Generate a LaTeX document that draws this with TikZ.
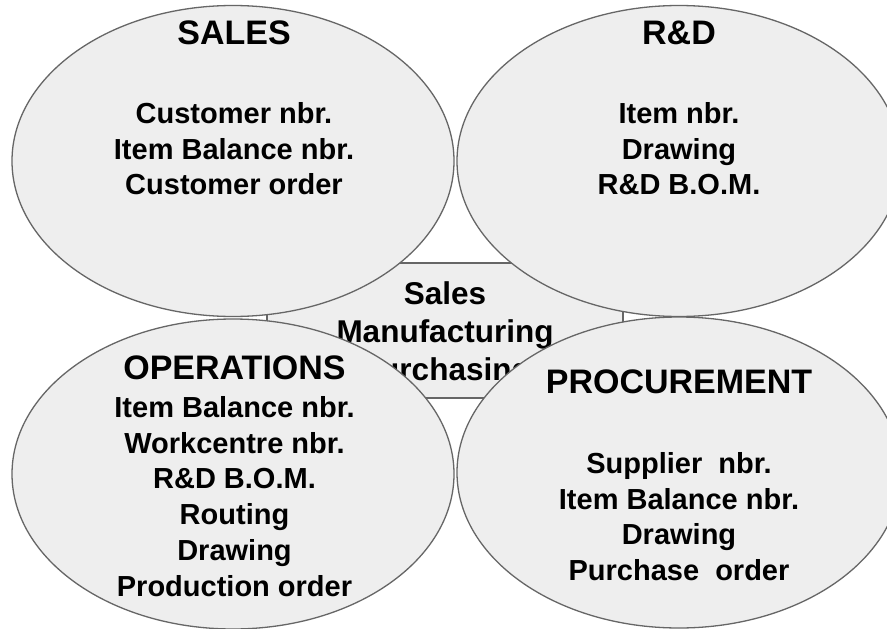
\documentclass[tikz,border=0pt]{standalone}
\usepackage{fontspec}
\setmainfont{Liberation Sans}
\usetikzlibrary{shapes.geometric}
\definecolor{shade}{HTML}{EEEEEE}
\definecolor{rim}{HTML}{666666}
\tikzset{
	dept/.style={ellipse, draw=rim, fill=shade, line width=1.3pt, inner sep=0pt, minimum width=443pt, minimum height=311pt},
	hub/.style={rectangle, draw=rim, fill=shade, line width=1.3pt, inner sep=0pt, minimum width=356pt, minimum height=135pt},
	head/.style={anchor=base, inner sep=0pt, font=\fontsize{34}{40}\selectfont\bfseries},
	list/.style={anchor=north, align=center, inner sep=0pt, font=\fontsize{29}{35.8}\selectfont\bfseries}
}
\begin{document}
\begin{tikzpicture}[x=1pt,y=-1pt]
		\clip (0,0) rectangle (887,629);
		\fill[white] (0,0) rectangle (887,629);
		\node[hub] (core) at (445,330.5) {};
		\node[list, font=\fontsize{31.5}{38}\selectfont\bfseries] (flow) at (445,281) {Sales\\Manufacturing\\Purchasing};
		\node[dept, minimum width=442pt] (sales) at (233,161) {};
		\node[dept, minimum width=444pt] (rnd) at (679,161) {};
		\node[dept, minimum width=442pt, minimum height=310pt] (ops) at (233,474) {};
		\node[dept, minimum width=444pt] (proc) at (679,472.5) {};
		\node[head] (salesT) at (234,45) {SALES};
		\node[list] (salesL) at (234,102) {Customer nbr.\\Item Balance nbr.\\Customer order};
		\node[head] (rndT) at (679,45) {R\&D};
		\node[list] (rndL) at (679,102) {Item nbr.\\Drawing\\R\&D B.O.M.};
		\node[head] (opsT) at (234.5,379) {OPERATIONS};
		\node[list] (opsL) at (234.5,396) {Item Balance nbr.\\Workcentre nbr.\\R\&D B.O.M.\\Routing\\Drawing\\Production order};
		\node[head] (procT) at (679,393) {PROCUREMENT};
		\node[list] (procL) at (679,452) {Supplier\ \ nbr.\\Item Balance nbr.\\Drawing\\Purchase\ \ order};
	\end{tikzpicture}
\end{document}
